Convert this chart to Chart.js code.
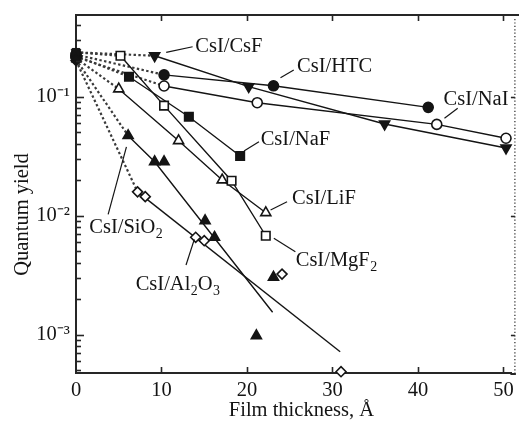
<!DOCTYPE html>
<html>
<head>
<meta charset="utf-8">
<script src="https://cdn.jsdelivr.net/npm/chart.js@4/dist/chart.umd.min.js"></script>
<style>
html,body{margin:0;padding:0;background:#fff;}
canvas{display:block;}
</style>
</head>
<body>
<canvas id="c" width="519" height="425"></canvas>
<script>
// ---------- data ----------
const seriesNames = ['CsI/CsF','CsI/HTC','CsI/NaI','CsI/NaF','CsI/MgF₂','CsI/LiF','CsI/SiO₂','CsI/Al₂O₃'];
// quantum yield of bare CsI (zero film thickness) for each series
const startYield = [0.235, 0.225, 0.215, 0.22, 0.235, 0.21, 0.205, 0.20];

const thickCsF = [9.2, 20.2, 36.1, 50.3];
const yieldCsF = [0.220, 0.121, 0.0587, 0.0369];
const thickHTC = [10.3, 23.1, 41.2];
const yieldHTC = [0.152, 0.123, 0.0811];
const thickNaI = [10.3, 21.2, 42.2, 50.3];
const yieldNaI = [0.1225, 0.0887, 0.0583, 0.0446];
const thickNaF = [6.2, 13.2, 19.2];
const yieldNaF = [0.1466, 0.0676, 0.0316];
const thickMgF2 = [5.2, 10.3, 18.2, 22.2];
const yieldMgF2 = [0.220, 0.0838, 0.0196, 0.00676];
const thickLiF = [5.0, 12.0, 17.1, 22.2];
const yieldLiF = [0.1156, 0.0425, 0.0199, 0.01056];
const thickSiO2 = [6.1, 9.2, 10.3, 15.1, 16.2, 23.1, 21.1];
const yieldSiO2 = [0.0469, 0.0283, 0.0283, 0.00904, 0.00656, 0.00303, 0.000977];
const fitThickSiO2 = [6.1, 9.2, 23.0];
const fitYieldSiO2 = [0.0469, 0.0283, 0.00154];
const thickAl2O3 = [7.2, 8.1, 14.0, 15.0, 24.1, 31.0];
const yieldAl2O3 = [0.0158, 0.0144, 0.00656, 0.00614, 0.00322, 0.000487];
const fitThickAl2O3 = [7.2, 30.9];
const fitYieldAl2O3 = [0.0158, 0.000716];

const xTickValues = [0, 10, 20, 30, 40, 50];
const yDecades = [-3, -2, -1];
const yTickLabels = ['10⁻³', '10⁻²', '10⁻¹'];

// callout labels (data coordinates): text anchor + leader line
const labelText  = ['CsI/CsF','CsI/HTC','CsI/NaI','CsI/NaF','CsI/LiF','CsI/MgF₂','CsI/SiO₂','CsI/Al₂O₃'];
const labelX     = [13.95, 25.85, 43.0, 21.6, 25.27, 25.7, 1.55, 6.98];
const labelY     = [0.271, 0.184, 0.0966, 0.0446, 0.01422, 0.0043, 0.00816, 0.00269];
const leadX1     = [10.55, 23.92, 43.1, 19.65, 22.76, 23.14, 3.76, 12.87];
const leadY1     = [0.235, 0.144, 0.0656, 0.0348, 0.01112, 0.00643, 0.01023, 0.00384];
const leadX2     = [13.64, 25.47, 44.65, 21.4, 24.69, 25.66, 5.9, 13.84];
const leadY2     = [0.262, 0.167, 0.0796, 0.0417, 0.01305, 0.00497, 0.0378, 0.00631];

// ---------- build ----------
const FONT = '"Liberation Serif", "Times New Roman", serif';
const FS = 20.5;
const INK = '#141414';

const series = [
  {t: thickCsF,  q: yieldCsF,  lt: thickCsF,      lq: yieldCsF,      style: 'triangle', rot: 180, filled: true,  r: 5.8},
  {t: thickHTC,  q: yieldHTC,  lt: thickHTC,      lq: yieldHTC,      style: 'circle',   rot: 0,   filled: true,  r: 5},
  {t: thickNaI,  q: yieldNaI,  lt: thickNaI,      lq: yieldNaI,      style: 'circle',   rot: 0,   filled: false, r: 5},
  {t: thickNaF,  q: yieldNaF,  lt: thickNaF,      lq: yieldNaF,      style: 'rect',     rot: 0,   filled: true,  r: 6},
  {t: thickMgF2, q: yieldMgF2, lt: thickMgF2,     lq: yieldMgF2,     style: 'rect',     rot: 0,   filled: false, r: 6},
  {t: thickLiF,  q: yieldLiF,  lt: thickLiF,      lq: yieldLiF,      style: 'triangle', rot: 0,   filled: false, r: 5.8},
  {t: thickSiO2, q: yieldSiO2, lt: fitThickSiO2,  lq: fitYieldSiO2,  style: 'triangle', rot: 0,   filled: true,  r: 5.8},
  {t: thickAl2O3,q: yieldAl2O3,lt: fitThickAl2O3, lq: fitYieldAl2O3, style: 'rectRot',  rot: 0,   filled: false, r: 5}
];

const toPts = (xs, ys) => xs.map((x, i) => ({x: x, y: ys[i]}));
const datasets = [];
series.forEach((s, i) => {
  // dotted link from bare CsI to first film point
  datasets.push({
    label: seriesNames[i] + ' (extrapolation)',
    data: [{x: 0, y: startYield[i]}, {x: s.t[0], y: s.q[0]}],
    borderColor: '#3a3a3a', borderWidth: 2.2, borderDash: [2.4, 2.4],
    pointRadius: 0, fill: false, tension: 0, order: 3
  });
  // solid line
  datasets.push({
    label: seriesNames[i] + ' (line)',
    data: toPts(s.lt, s.lq),
    borderColor: INK, borderWidth: 1.4,
    pointRadius: 0, fill: false, tension: 0, order: 2
  });
});
series.forEach((s, i) => {
  datasets.push({
    label: seriesNames[i],
    data: toPts(s.t, s.q),
    showLine: false,
    pointStyle: s.style, rotation: s.rot, pointRadius: s.r,
    pointBackgroundColor: s.filled ? INK : '#ffffff',
    pointBorderColor: INK, pointBorderWidth: 1.6,
    order: 1, clip: false
  });
});
// bare CsI points (all drawn filled, overlapping at zero thickness)
datasets.push({
  label: 'CsI',
  data: startYield.map(v => ({x: 0, y: v})),
  showLine: false,
  pointStyle: series.map(s => s.style),
  rotation: series.map(s => s.rot),
  pointRadius: 5.5,
  pointBackgroundColor: INK, pointBorderColor: INK, pointBorderWidth: 1,
  order: 0, clip: false
});

function drawRich(ctx, text, x, yCenter) {
  const base = yCenter + 0.33 * FS;
  let cx = x;
  const subMap = {'₀':'0','₁':'1','₂':'2','₃':'3','₄':'4'};
  let buf = '';
  const flush = () => {
    if (!buf) return;
    ctx.font = FS + 'px ' + FONT;
    ctx.fillText(buf, cx, base);
    cx += ctx.measureText(buf).width;
    buf = '';
  };
  for (const ch of text) {
    if (subMap[ch]) {
      flush();
      ctx.font = (FS * 0.68) + 'px ' + FONT;
      ctx.fillText(subMap[ch], cx + 0.5, base + 5);
      cx += ctx.measureText(subMap[ch]).width + 0.5;
    } else buf += ch;
  }
  flush();
}

const framePlugin = {
  id: 'frame',
  afterDatasetsDraw(chart) {
    const {ctx, chartArea: a} = chart;
    const x = chart.scales.x, y = chart.scales.y;
    const line = (x1, y1, x2, y2) => { ctx.beginPath(); ctx.moveTo(x1, y1); ctx.lineTo(x2, y2); ctx.stroke(); };
    const rightEdge = Math.min(chart.width - 1.5, a.right + 3.5);
    ctx.save();
    ctx.strokeStyle = '#262626';
    // top frame and bottom axis extension to the right frame
    ctx.lineWidth = 2;
    line(a.left - 1, a.top, chart.width, a.top);
    line(a.right - 1, a.bottom + 1, rightEdge + 1, a.bottom + 1);
    // right (dotted) frame
    ctx.lineWidth = 1.2;
    ctx.setLineDash([1.2, 2.2]);
    line(rightEdge, a.top + 4, rightEdge, a.bottom);
    ctx.setLineDash([]);
    // x ticks, inward, bottom and top
    ctx.lineWidth = 1.6;
    xTickValues.forEach(v => {
      if (v === 0) return;
      const px = Math.round(x.getPixelForValue(v)) + 0.5;
      line(px, a.bottom, px, a.bottom - 6);
      line(px, a.top, px, a.top + 6);
    });
    // y ticks, inward
    for (let e = -4; e <= 0; e++) {
      for (let m = 1; m <= 9; m++) {
        const v = m * Math.pow(10, e);
        if (v < y.min || v > y.max) continue;
        const py = Math.round(y.getPixelForValue(v)) + 0.5;
        line(a.left, py, a.left + (m === 1 ? 8 : 5), py);
        if (m === 1) line(rightEdge, py, rightEdge - 4, py);
      }
    }
    // callouts
    ctx.lineWidth = 1.2;
    ctx.strokeStyle = INK;
    ctx.fillStyle = INK;
    ctx.textAlign = 'left';
    ctx.textBaseline = 'alphabetic';
    labelText.forEach((t, i) => {
      line(x.getPixelForValue(leadX1[i]), y.getPixelForValue(leadY1[i]),
           x.getPixelForValue(leadX2[i]), y.getPixelForValue(leadY2[i]));
      drawRich(ctx, t, x.getPixelForValue(labelX[i]), y.getPixelForValue(labelY[i]));
    });
    ctx.restore();
  }
};

const tickFont = {family: FONT, size: FS};
new Chart(document.getElementById('c'), {
  type: 'line',
  data: {datasets: datasets},
  plugins: [framePlugin],
  options: {
    responsive: false,
    animation: false,
    devicePixelRatio: 1,
    layout: {padding: {top: 15, right: 0, left: 0, bottom: 0}},
    plugins: {legend: {display: false}, tooltip: {enabled: false}},
    scales: {
      x: {
        type: 'linear', min: 0, max: 50.93,
        afterFit(s) { s.height = 52; s.paddingLeft = 0; s.paddingRight = 0; },
        ticks: {stepSize: 10, includeBounds: false, padding: 5, color: INK, font: tickFont, maxRotation: 0},
        grid: {display: false, drawTicks: false},
        border: {display: true, color: '#262626', width: 2},
        title: {display: true, text: '   Film thickness, Å', color: INK, font: tickFont, padding: {top: 0, bottom: 2}}
      },
      y: {
        type: 'logarithmic', min: 4.75e-4, max: 0.484,
        afterFit(s) { s.width = 76; s.paddingTop = 0; s.paddingBottom = 0; },
        ticks: {
          autoSkip: false, padding: 6, color: INK, font: tickFont,
          callback: (v) => {
            const e = Math.log10(v);
            const k = yDecades.indexOf(Math.round(e));
            return (Math.abs(e - Math.round(e)) < 1e-6 && k >= 0) ? yTickLabels[k] : '';
          }
        },
        grid: {display: false, drawTicks: false},
        border: {display: true, color: '#262626', width: 2},
        title: {display: true, text: 'Quantum yield        ', color: INK, font: tickFont, padding: {top: 10, bottom: 0}}
      }
    }
  }
});
</script>
</body>
</html>
